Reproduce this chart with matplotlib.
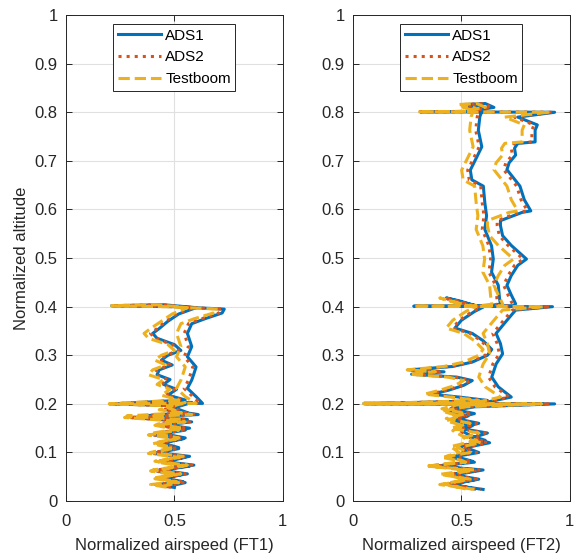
import numpy as np
import matplotlib
matplotlib.use("Agg")
import matplotlib.pyplot as plt

plt.rcParams['font.family'] = ['Liberation Sans', 'DejaVu Sans']

# ---- flight test 1 ----
alt_ft1 = [0.030, 0.038, 0.046, 0.054, 0.062, 0.072, 0.080, 0.090, 0.098, 0.108,
           0.118, 0.128, 0.136, 0.146, 0.156, 0.163, 0.172, 0.178, 0.188, 0.196,
           0.200, 0.201,
           0.215, 0.232, 0.249, 0.262, 0.276, 0.297, 0.318, 0.345, 0.365, 0.375, 0.387, 0.395,
           0.400, 0.402, 0.404, 0.398,
           0.385, 0.370, 0.355, 0.345, 0.335, 0.322, 0.310, 0.300, 0.290, 0.280,
           0.270, 0.260, 0.250, 0.240, 0.230, 0.218, 0.208,
           0.200, 0.203,
           0.192, 0.182, 0.175, 0.168, 0.158, 0.150, 0.140, 0.130, 0.120, 0.110,
           0.100, 0.092, 0.082, 0.074, 0.064, 0.056, 0.048, 0.040, 0.034, 0.028]
ads1_ft1 = [0.47, 0.55, 0.44, 0.53, 0.42, 0.57, 0.45, 0.55, 0.41, 0.52,
            0.43, 0.54, 0.41, 0.55, 0.44, 0.58, 0.30, 0.61, 0.46, 0.52,
            0.21, 0.63,
            0.60, 0.56, 0.58, 0.59, 0.60, 0.56, 0.58, 0.56, 0.58, 0.64, 0.72, 0.73,
            0.50, 0.21, 0.45, 0.60,
            0.52, 0.47, 0.43, 0.40, 0.42, 0.50, 0.53, 0.47, 0.44, 0.49,
            0.43, 0.42, 0.48, 0.45, 0.51, 0.47, 0.55,
            0.22, 0.58,
            0.50, 0.56, 0.35, 0.56, 0.45, 0.57, 0.43, 0.55, 0.44, 0.52,
            0.42, 0.57, 0.44, 0.59, 0.43, 0.56, 0.44, 0.54, 0.42, 0.50]
ads2_ft1 = [0.46, 0.54, 0.43, 0.52, 0.41, 0.56, 0.44, 0.54, 0.40, 0.51,
            0.42, 0.53, 0.40, 0.54, 0.43, 0.57, 0.29, 0.60, 0.45, 0.51,
            0.21, 0.62,
            0.585, 0.545, 0.565, 0.575, 0.585, 0.545, 0.565, 0.545, 0.565, 0.625, 0.705, 0.72,
            0.49, 0.21, 0.44, 0.59,
            0.51, 0.46, 0.42, 0.39, 0.41, 0.49, 0.52, 0.46, 0.43, 0.48,
            0.42, 0.41, 0.47, 0.44, 0.50, 0.46, 0.54,
            0.21, 0.57,
            0.49, 0.55, 0.34, 0.55, 0.44, 0.56, 0.42, 0.54, 0.43, 0.51,
            0.41, 0.56, 0.43, 0.58, 0.42, 0.55, 0.43, 0.53, 0.41, 0.49]
boom_ft1 = [0.44, 0.52, 0.41, 0.50, 0.39, 0.54, 0.42, 0.52, 0.38, 0.49,
            0.40, 0.51, 0.38, 0.52, 0.41, 0.55, 0.27, 0.58, 0.43, 0.49,
            0.20, 0.60,
            0.55, 0.51, 0.53, 0.54, 0.55, 0.51, 0.53, 0.51, 0.53, 0.59, 0.68, 0.70,
            0.46, 0.21, 0.42, 0.56,
            0.49, 0.44, 0.39, 0.36, 0.38, 0.47, 0.50, 0.44, 0.41, 0.46,
            0.40, 0.38, 0.45, 0.42, 0.48, 0.44, 0.52,
            0.20, 0.55,
            0.47, 0.53, 0.28, 0.53, 0.42, 0.54, 0.40, 0.52, 0.41, 0.49,
            0.39, 0.54, 0.41, 0.56, 0.40, 0.53, 0.41, 0.51, 0.39, 0.47]

# ---- flight test 2 ----
alt_ft2 = [0.025, 0.035, 0.045, 0.055, 0.063, 0.072, 0.082, 0.092, 0.100, 0.112,
           0.125, 0.135, 0.145, 0.155, 0.165, 0.175, 0.185, 0.194,
           0.200, 0.201, 0.202,
           0.214, 0.235, 0.255, 0.282, 0.303, 0.324, 0.345, 0.372, 0.393,
           0.400, 0.401, 0.402,
           0.406, 0.424, 0.444, 0.464, 0.485, 0.498, 0.526, 0.546, 0.567, 0.577,
           0.594, 0.597, 0.620, 0.648, 0.682, 0.696, 0.712, 0.726, 0.736, 0.739,
           0.763, 0.774, 0.790,
           0.800, 0.801, 0.802,
           0.816, 0.818, 0.810, 0.804, 0.815, 0.809,
           0.791, 0.763, 0.729, 0.708, 0.681, 0.661, 0.648, 0.614, 0.587, 0.559,
           0.525, 0.498, 0.471, 0.444, 0.416, 0.405,
           0.400, 0.412, 0.418, 0.406, 0.399,
           0.390, 0.372, 0.356, 0.345, 0.330, 0.312, 0.300, 0.286, 0.277, 0.270,
           0.266, 0.261, 0.255, 0.248, 0.238, 0.228, 0.220, 0.214, 0.207,
           0.200, 0.199, 0.198,
           0.190, 0.180, 0.170, 0.160, 0.150, 0.140, 0.130, 0.120, 0.110, 0.100,
           0.090, 0.080, 0.072, 0.064, 0.054, 0.044, 0.034, 0.024]
ads1_ft2 = [0.56, 0.46, 0.58, 0.45, 0.57, 0.41, 0.55, 0.47, 0.53, 0.49,
            0.61, 0.54, 0.50, 0.55, 0.47, 0.53, 0.45, 0.56,
            0.93, 0.05, 0.60,
            0.73, 0.67, 0.64, 0.66, 0.69, 0.68, 0.66, 0.71, 0.75,
            0.92, 0.28, 0.74,
            0.75, 0.73, 0.71, 0.73, 0.76, 0.80, 0.73, 0.69, 0.68, 0.68,
            0.78, 0.82, 0.79, 0.77, 0.71, 0.72, 0.75, 0.745, 0.76, 0.84,
            0.84, 0.85, 0.76,
            0.93, 0.31, 0.60,
            0.52, 0.61, 0.65, 0.56, 0.53, 0.60,
            0.585, 0.578, 0.594, 0.571, 0.541, 0.548, 0.601, 0.608, 0.616, 0.608,
            0.639, 0.647, 0.639, 0.670, 0.676, 0.680,
            0.58, 0.49, 0.43, 0.53, 0.60,
            0.56, 0.50, 0.47, 0.55, 0.60, 0.64, 0.62, 0.55, 0.46, 0.26,
            0.42, 0.27, 0.48, 0.55, 0.51, 0.44, 0.36, 0.49, 0.62,
            0.06, 0.88, 0.52,
            0.45, 0.56, 0.47, 0.58, 0.49, 0.62, 0.55, 0.63, 0.52, 0.58,
            0.45, 0.56, 0.38, 0.60, 0.47, 0.56, 0.44, 0.60]
ads2_ft2 = [0.55, 0.45, 0.57, 0.44, 0.56, 0.40, 0.54, 0.46, 0.52, 0.48,
            0.60, 0.53, 0.49, 0.54, 0.46, 0.52, 0.44, 0.55,
            0.91, 0.05, 0.59,
            0.72, 0.655, 0.625, 0.645, 0.675, 0.665, 0.645, 0.695, 0.735,
            0.91, 0.28, 0.725,
            0.735, 0.715, 0.695, 0.715, 0.745, 0.785, 0.715, 0.675, 0.665, 0.665,
            0.765, 0.805, 0.775, 0.755, 0.695, 0.705, 0.735, 0.73, 0.745, 0.825,
            0.825, 0.835, 0.745,
            0.92, 0.31, 0.59,
            0.51, 0.60, 0.64, 0.55, 0.52, 0.59,
            0.573, 0.566, 0.582, 0.559, 0.529, 0.536, 0.589, 0.596, 0.604, 0.596,
            0.627, 0.635, 0.627, 0.658, 0.664, 0.668,
            0.57, 0.48, 0.42, 0.52, 0.59,
            0.55, 0.49, 0.46, 0.54, 0.59, 0.63, 0.61, 0.54, 0.45, 0.26,
            0.41, 0.27, 0.47, 0.54, 0.50, 0.43, 0.35, 0.48, 0.61,
            0.06, 0.86, 0.51,
            0.44, 0.55, 0.46, 0.57, 0.48, 0.61, 0.54, 0.62, 0.51, 0.57,
            0.44, 0.55, 0.37, 0.59, 0.46, 0.55, 0.43, 0.59]
boom_ft2 = [0.52, 0.42, 0.54, 0.40, 0.53, 0.35, 0.51, 0.43, 0.49, 0.45,
            0.57, 0.50, 0.46, 0.51, 0.43, 0.49, 0.41, 0.52,
            0.87, 0.05, 0.56,
            0.68, 0.61, 0.58, 0.60, 0.63, 0.62, 0.60, 0.65, 0.69,
            0.88, 0.28, 0.69,
            0.69, 0.67, 0.65, 0.67, 0.70, 0.74, 0.67, 0.63, 0.62, 0.62,
            0.72, 0.76, 0.73, 0.71, 0.65, 0.66, 0.69, 0.685, 0.70, 0.78,
            0.78, 0.79, 0.70,
            0.90, 0.30, 0.55,
            0.49, 0.57, 0.61, 0.52, 0.50, 0.56,
            0.545, 0.538, 0.554, 0.531, 0.501, 0.508, 0.561, 0.568, 0.576, 0.568,
            0.599, 0.607, 0.599, 0.630, 0.636, 0.640,
            0.55, 0.45, 0.40, 0.49, 0.56,
            0.52, 0.46, 0.43, 0.51, 0.56, 0.60, 0.58, 0.51, 0.42, 0.25,
            0.38, 0.26, 0.44, 0.51, 0.47, 0.40, 0.33, 0.45, 0.58,
            0.05, 0.83, 0.48,
            0.41, 0.52, 0.43, 0.54, 0.45, 0.58, 0.51, 0.59, 0.48, 0.54,
            0.41, 0.52, 0.34, 0.56, 0.43, 0.52, 0.40, 0.56]

labels = ['ADS1', 'ADS2', 'Testboom']
colors = ['#0072BD', '#D95319', '#EDB120']
styles = ['-', ':', '--']

fig = plt.figure(figsize=(5.86, 5.58), dpi=100)
ax1 = fig.add_axes([0.1126, 0.102, 0.370, 0.871])
ax2 = fig.add_axes([0.6024, 0.102, 0.370, 0.871])

panels = [(ax1, alt_ft1, [ads1_ft1, ads2_ft1, boom_ft1], 'Normalized airspeed (FT1)'),
          (ax2, alt_ft2, [ads1_ft2, ads2_ft2, boom_ft2], 'Normalized airspeed (FT2)')]

for ax, alt, series, xl in panels:
    for xs, lab, c, ls in zip(series, labels, colors, styles):
        ax.plot(xs, alt, ls, color=c, lw=2.2, label=lab)
    ax.set_xlim(0, 1)
    ax.set_ylim(0, 1)
    ax.set_xticks([0, 0.5, 1])
    ax.set_xticklabels(['0', '0.5', '1'])
    ax.set_yticks(np.arange(0, 1.01, 0.1))
    ax.set_yticklabels(['0', '0.1', '0.2', '0.3', '0.4', '0.5', '0.6', '0.7', '0.8', '0.9', '1'])
    ax.grid(True, color='#e0e0e0', lw=0.8)
    ax.set_axisbelow(True)
    ax.tick_params(direction='in', length=4, width=0.7, top=True, right=True,
                   labelsize=12, colors='#262626')
    ax.tick_params(axis='x', pad=9)
    ax.tick_params(axis='y', pad=6)
    for s in ax.spines.values():
        s.set_color('#262626')
        s.set_linewidth(0.7)
    ax.set_xlabel(xl, fontsize=12, color='#262626', labelpad=7)
    leg = ax.legend(loc='upper center', fontsize=11, fancybox=False, framealpha=1,
                    edgecolor='#262626', handlelength=2.8, borderaxespad=0.6,
                    labelspacing=0.5, handletextpad=0.3, borderpad=0.3)
    leg.get_frame().set_linewidth(0.7)

ax1.set_ylabel('Normalized altitude', fontsize=12, color='#262626', labelpad=4)

fig.savefig('out.png', dpi=100)
